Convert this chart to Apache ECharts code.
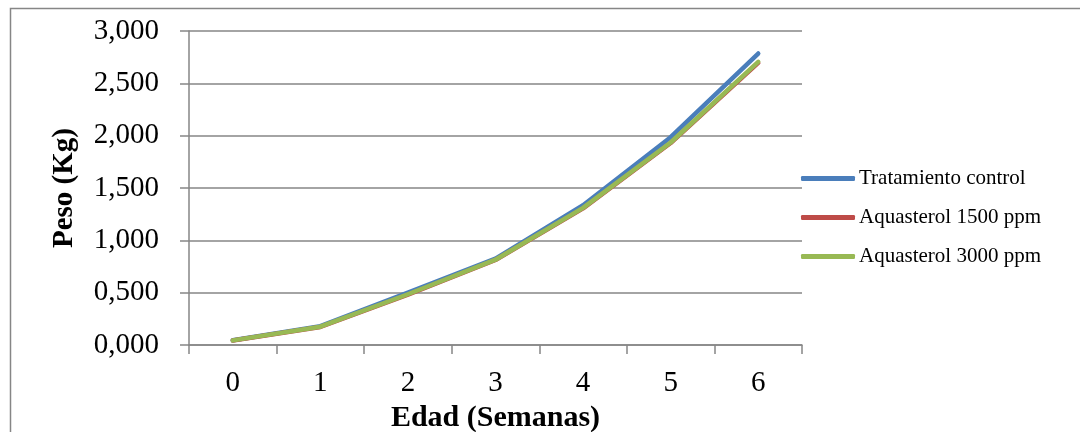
<!DOCTYPE html>
<html>
<head>
<meta charset="utf-8">
<script src="https://cdn.jsdelivr.net/npm/echarts@6/dist/echarts.min.js"></script>
<style>
html,body{margin:0;padding:0;background:#fff;}
#c{width:1080px;height:432px;}
</style>
</head>
<body>
<div id="c"></div>
<script>
const categories = ['0','1','2','3','4','5','6'];
const control = [0.045, 0.180, 0.500, 0.825, 1.335, 1.985, 2.785];
const aqua1500 = [0.043, 0.172, 0.480, 0.812, 1.305, 1.930, 2.695];
const aqua3000 = [0.044, 0.175, 0.485, 0.815, 1.310, 1.935, 2.705];
const seriesNames = ['Tratamiento control', 'Aquasterol 1500 ppm', 'Aquasterol 3000 ppm'];
const colors = ['#4A7EBB', '#BE4B48', '#98B954'];

const chart = echarts.init(document.getElementById('c'));
const font = '"Liberation Serif", "Times New Roman", serif';
const mk = (name, data, color) => ({
  name, type: 'line', data, showSymbol: false, symbol: 'none',
  lineStyle: {width: 4.5, color, cap: 'round', join: 'round'},
  itemStyle: {color}
});
chart.setOption({
  animation: false,
  color: colors,
  graphic: [{
    type: 'rect', shape: {x: 10.5, y: 8.5, width: 1100, height: 500},
    style: {fill: 'none', stroke: '#868686', lineWidth: 1.5}, silent: true
  }],
  grid: {left: 189, right: 278, top: 31, bottom: 87, containLabel: false, outerBoundsMode: 'none'},
  legend: {
    orient: 'vertical', left: 796, top: 163,
    itemWidth: 54, itemHeight: 5, itemGap: 18, icon: 'roundRect',
    textStyle: {fontFamily: font, fontSize: 21, color: '#000', padding: [0,0,0,-1]},
    data: seriesNames
  },
  xAxis: {
    type: 'category', data: categories, boundaryGap: true,
    name: 'Edad (Semanas)', nameLocation: 'middle', nameGap: 52,
    nameTextStyle: {fontFamily: font, fontSize: 30, fontWeight: 'bold', color: '#000'},
    axisLine: {lineStyle: {color: '#868686', width: 1.5}},
    axisTick: {show: true, length: 9, lineStyle: {color: '#868686', width: 1.5}, alignWithLabel: false},
    axisLabel: {fontFamily: font, fontSize: 29, color: '#000', margin: 24}
  },
  yAxis: {
    type: 'value', min: 0, max: 3, interval: 0.5,
    name: 'Peso (Kg)', nameLocation: 'middle', nameGap: 110, nameRotate: 90,
    nameTextStyle: {fontFamily: font, fontSize: 29, fontWeight: 'bold', color: '#000'},
    axisLine: {show: true, lineStyle: {color: '#868686', width: 1.5}},
    axisTick: {show: true, length: 9, lineStyle: {color: '#868686', width: 1.5}},
    splitLine: {lineStyle: {color: '#868686', width: 1.5}},
    axisLabel: {fontFamily: font, fontSize: 29, color: '#000', margin: 30,
      formatter: v => v.toFixed(3).replace('.', ',')}
  },
  series: [mk(seriesNames[0], control, colors[0]), mk(seriesNames[1], aqua1500, colors[1]), mk(seriesNames[2], aqua3000, colors[2])]
});
</script>
</body>
</html>
